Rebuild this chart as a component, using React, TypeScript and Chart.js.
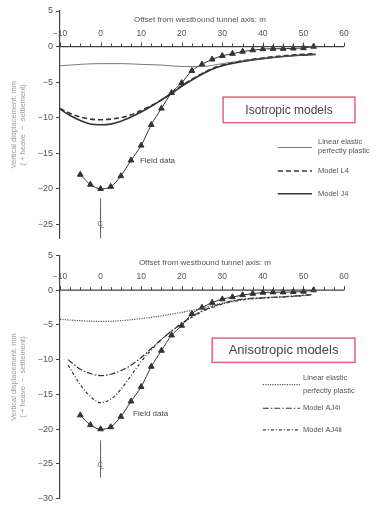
import React, { useEffect, useRef } from 'react';
import { Chart, registerables } from 'chart.js';
Chart.register(...registerables);

const FONT = '"Liberation Sans", Arial, Helvetica, sans-serif';
const INK = '#333333';
const AXIS = '#444444';
const TEXT = '#555555';

// ---- data ----
const fieldX = [-5, -2.5, 0, 2.5, 5, 7.5, 10, 12.5, 15, 17.5, 20, 22.5, 25, 27.5, 30, 32.5, 35, 37.5, 40, 42.5, 45, 47.5, 50, 52.5];
const fieldY = [-18.0, -19.4, -20.0, -19.7, -18.2, -16.0, -13.9, -11.0, -8.7, -6.5, -5.1, -3.4, -2.5, -1.8, -1.3, -1.0, -0.7, -0.5, -0.35, -0.3, -0.3, -0.25, -0.2, 0.0];

const isoX = [-10, -7.5, -5, -2.5, 0, 2.5, 5, 7.5, 10, 12.5, 15, 17.5, 20, 22.5, 25, 27.5, 30, 35, 40, 45, 50, 53];
const l4Y = [-8.7, -9.4, -9.9, -10.2, -10.3, -10.2, -10.0, -9.6, -9.0, -8.3, -7.5, -6.6, -5.5, -4.6, -3.8, -3.1, -2.6, -2.0, -1.6, -1.3, -1.1, -1.0];
const j4Y = [-8.8, -9.7, -10.4, -10.9, -11.0, -10.9, -10.5, -9.9, -9.2, -8.4, -7.5, -6.6, -5.6, -4.7, -3.9, -3.2, -2.7, -2.1, -1.7, -1.4, -1.2, -1.1];
const isoLeppX = [-10, -5, 0, 5, 10, 15, 20, 25, 30, 35, 40, 45, 50, 53];
const isoLeppY = [-2.7, -2.5, -2.4, -2.4, -2.5, -2.6, -2.8, -2.8, -2.4, -2.0, -1.7, -1.4, -1.2, -1.1];

const anisoX = [-8, -5, -2.5, 0, 2.5, 5, 7.5, 10, 12.5, 15, 17.5, 20, 22.5, 25, 27.5, 30, 35, 40, 45, 50, 52];
const aj4iY = [-10.0, -11.4, -12.0, -12.3, -12.1, -11.6, -10.8, -9.7, -8.4, -7.1, -5.9, -4.8, -3.8, -3.0, -2.4, -1.9, -1.3, -1.1, -0.95, -0.75, -0.65];
const aj4iiY = [-10.8, -13.6, -15.3, -16.2, -15.7, -14.3, -12.3, -10.3, -8.6, -7.1, -5.9, -4.8, -3.9, -3.1, -2.5, -2.0, -1.4, -1.15, -1.0, -0.8, -0.7];
const anisoLeppX = [-10, -5, 0, 5, 10, 15, 20, 22.5, 25, 27.5, 30, 35, 40, 45, 50, 52];
const anisoLeppY = [-4.2, -4.4, -4.5, -4.4, -4.1, -3.7, -3.2, -2.9, -2.6, -2.2, -1.9, -1.35, -1.1, -0.95, -0.75, -0.65];

const centreX = [0, 0];
const centreTopY = [-21.3, -27];
const centreBottomY = [-21.6, -27];

const xLabels = [-10, 0, 10, 20, 30, 40, 50, 60];
const yTicksTop = [5, 0, -5, -10, -15, -20, -25];
const yTicksBottom = [5, 0, -5, -10, -15, -20, -25, -30];
const xTitle = 'Offset from westbound tunnel axis: m';
const yTitle = ['Vertical displacement: mm', '( + heave  \u2212  settlement)'];

const xMinor: number[] = [];
for (let v = -10; v <= 60; v += 2.5) xMinor.push(v);

const pts = (xs: number[], ys: number[]) => xs.map((x, i) => ({ x, y: ys[i] }));
const fmt = (v: number) => (v < 0 ? '\u2212' + Math.abs(v) : String(v));

type LegendItem = { y: number; dash: number[]; width: number; color: string; lines: string[]; lineYs: number[] };
type PanelCfg = {
  height: number;
  yMin: number;
  yTicks: number[];
  padTop: number;
  padBottom: number;
  datasets: any[];
  title: { x: number; y: number };
  tickLabelY: number;
  fieldLabel: { x: number; y: number };
  box: { x0: number; x1: number; y0: number; y1: number; text: string; size: number };
  legend: { x0: number; x1: number; tx: number; items: LegendItem[] };
  centreSym: { x: number; y: number };
};

const overlay = (cfg: PanelCfg) => ({
  id: 'overlay',
  afterDraw(chart: any) {
    const { ctx } = chart;
    const xs = chart.scales.x;
    const ys = chart.scales.y;
    const X = (v: number) => xs.getPixelForValue(v);
    const Y = (v: number) => ys.getPixelForValue(v);
    ctx.save();
    // x axis at y = 0
    ctx.strokeStyle = AXIS;
    ctx.lineWidth = 1.2;
    ctx.setLineDash([]);
    ctx.beginPath();
    ctx.moveTo(X(-10), Y(0));
    ctx.lineTo(X(60), Y(0));
    ctx.stroke();
    ctx.lineWidth = 1;
    ctx.beginPath();
    xMinor.forEach((v) => {
      const major = xLabels.includes(v);
      const px = Math.round(X(v)) + 0.5;
      ctx.moveTo(px, Y(0));
      ctx.lineTo(px, Y(0) - (major ? 4 : 3));
    });
    ctx.stroke();
    ctx.fillStyle = TEXT;
    ctx.font = `8.5px ${FONT}`;
    ctx.textAlign = 'center';
    ctx.textBaseline = 'middle';
    xLabels.forEach((v) => ctx.fillText(fmt(v), X(v), Y(cfg.tickLabelY)));
    ctx.font = `8px ${FONT}`;
    ctx.fillText(xTitle, X(cfg.title.x), Y(cfg.title.y));

    // field data label
    ctx.fillStyle = '#444';
    ctx.font = `8px ${FONT}`;
    ctx.textAlign = 'left';
    ctx.fillText('Field data', X(cfg.fieldLabel.x), Y(cfg.fieldLabel.y));

    // model box
    const b = cfg.box;
    ctx.strokeStyle = '#e2627f';
    ctx.lineWidth = 1.5;
    ctx.strokeRect(X(b.x0), Y(b.y0), X(b.x1) - X(b.x0), Y(b.y1) - Y(b.y0));
    ctx.fillStyle = '#444';
    ctx.font = `${b.size}px ${FONT}`;
    ctx.textAlign = 'center';
    ctx.fillText(b.text, (X(b.x0) + X(b.x1)) / 2, (Y(b.y0) + Y(b.y1)) / 2 + 0.5);

    // legend
    const lg = cfg.legend;
    lg.items.forEach((it) => {
      ctx.strokeStyle = it.color;
      ctx.lineWidth = it.width;
      ctx.setLineDash(it.dash);
      ctx.beginPath();
      ctx.moveTo(X(lg.x0), Y(it.y));
      ctx.lineTo(X(lg.x1), Y(it.y));
      ctx.stroke();
      ctx.setLineDash([]);
      ctx.fillStyle = TEXT;
      ctx.font = `7.5px ${FONT}`;
      ctx.textAlign = 'left';
      it.lines.forEach((t, i) => ctx.fillText(t, X(lg.tx), Y(it.lineYs[i])));
    });

    // centreline symbol
    const cx = X(cfg.centreSym.x);
    const cy = Y(cfg.centreSym.y);
    ctx.fillStyle = '#666';
    ctx.font = `8px ${FONT}`;
    ctx.textAlign = 'center';
    ctx.fillText('C', cx - 0.5, cy);
    ctx.fillText('L', cx + 1.5, cy + 2);
    ctx.restore();
  },
});

function Panel({ cfg }: { cfg: PanelCfg }) {
  const ref = useRef<HTMLCanvasElement>(null);
  useEffect(() => {
    const chart = new Chart(ref.current as HTMLCanvasElement, {
      type: 'line',
      data: { datasets: cfg.datasets },
      options: {
        animation: false,
        responsive: false,
        layout: { padding: { left: 9, right: 33, top: cfg.padTop, bottom: cfg.padBottom } },
        plugins: { legend: { display: false }, tooltip: { enabled: false } },
        scales: {
          x: { type: 'linear', min: -10, max: 60, display: false },
          y: {
            type: 'linear',
            min: cfg.yMin,
            max: 5,
            afterBuildTicks: (s: any) => {
              s.ticks = cfg.yTicks.map((v) => ({ value: v }));
            },
            afterFit: (s: any) => {
              s.width = 51;
            },
            ticks: {
              color: TEXT,
              font: { size: 9, family: FONT },
              padding: 3,
              callback: (v: any) => fmt(Number(v)),
            },
            grid: { drawOnChartArea: false, drawTicks: true, tickLength: 4, color: AXIS, lineWidth: 1 },
            border: { display: true, color: AXIS, width: 1.2 },
            title: {
              display: true,
              text: yTitle,
              color: '#9a9a9a',
              font: { size: 7.5, family: FONT },
              padding: 0,
            },
          },
        },
      } as any,
      plugins: [overlay(cfg)],
    });
    return () => chart.destroy();
  }, []);
  return <canvas ref={ref} width={377} height={cfg.height} style={{ display: 'block' }} />;
}

const fieldDataset = {
  label: 'Field data',
  data: pts(fieldX, fieldY),
  borderColor: INK,
  backgroundColor: INK,
  borderWidth: 1,
  pointStyle: 'triangle',
  pointRadius: 3.3,
  pointBorderWidth: 1,
  cubicInterpolationMode: 'monotone',
};

const line = (label: string, xs: number[], ys: number[], dash: number[], width: number, color: string) => ({
  label,
  data: pts(xs, ys),
  borderColor: color,
  borderWidth: width,
  borderDash: dash,
  pointRadius: 0,
  cubicInterpolationMode: 'monotone',
  fill: false,
});

const topCfg: PanelCfg = {
  height: 247,
  yMin: -27,
  yTicks: yTicksTop,
  padTop: 11,
  padBottom: 6,
  datasets: [
    line('Linear elastic perfectly plastic', isoLeppX, isoLeppY, [], 0.8, '#555'),
    line('Model L4', isoX, l4Y, [5, 3], 1.6, INK),
    line('Model J4', isoX, j4Y, [], 1.6, INK),
    line('centreline', centreX, centreTopY, [], 1, '#555'),
    fieldDataset,
  ],
  title: { x: 24.5, y: 3.75 },
  tickLabelY: 1.8,
  fieldLabel: { x: 9.7, y: -16.1 },
  box: { x0: 30.2, x1: 62.7, y0: -7.1, y1: -10.7, text: 'Isotropic models', size: 12 },
  legend: {
    x0: 43.7,
    x1: 52.1,
    tx: 53.6,
    items: [
      { y: -14.2, dash: [], width: 0.8, color: '#555', lines: ['Linear elastic', 'perfectly plastic'], lineYs: [-13.4, -14.7] },
      { y: -17.5, dash: [5, 3], width: 1.6, color: INK, lines: ['Model L4'], lineYs: [-17.5] },
      { y: -20.7, dash: [], width: 1.6, color: INK, lines: ['Model J4'], lineYs: [-20.7] },
    ],
  },
  centreSym: { x: 0, y: -24.9 },
};

const bottomCfg: PanelCfg = {
  height: 260,
  yMin: -30,
  yTicks: yTicksBottom,
  padTop: 5,
  padBottom: 5,
  datasets: [
    line('Linear elastic perfectly plastic', anisoLeppX, anisoLeppY, [1.2, 1.2], 1.2, '#555'),
    line('Model AJ4i', anisoX, aj4iY, [6, 2, 1.5, 2], 1.2, INK),
    line('Model AJ4ii', anisoX, aj4iiY, [3, 2, 1, 2], 1.2, INK),
    line('centreline', centreX, centreBottomY, [], 1, '#555'),
    fieldDataset,
  ],
  title: { x: 25.7, y: 3.9 },
  tickLabelY: 1.9,
  fieldLabel: { x: 8.0, y: -17.8 },
  box: { x0: 27.5, x1: 62.7, y0: -6.9, y1: -10.4, text: 'Anisotropic models', size: 13 },
  legend: {
    x0: 40,
    x1: 49.1,
    tx: 49.9,
    items: [
      { y: -13.6, dash: [1.2, 1.2], width: 1.2, color: '#555', lines: ['Linear elastic', 'perfectly plastic'], lineYs: [-12.7, -14.5] },
      { y: -17.0, dash: [6, 2, 1.5, 2], width: 1.2, color: INK, lines: ['Model AJ4i'], lineYs: [-17.0] },
      { y: -20.1, dash: [3, 2, 1, 2], width: 1.2, color: INK, lines: ['Model AJ4ii'], lineYs: [-20.1] },
    ],
  },
  centreSym: { x: 0, y: -25.1 },
};

export default function App() {
  return (
    <div style={{ position: 'absolute', left: 0, top: 0, width: 377, height: 507, background: '#fff' }}>
      <Panel cfg={topCfg} />
      <Panel cfg={bottomCfg} />
    </div>
  );
}
